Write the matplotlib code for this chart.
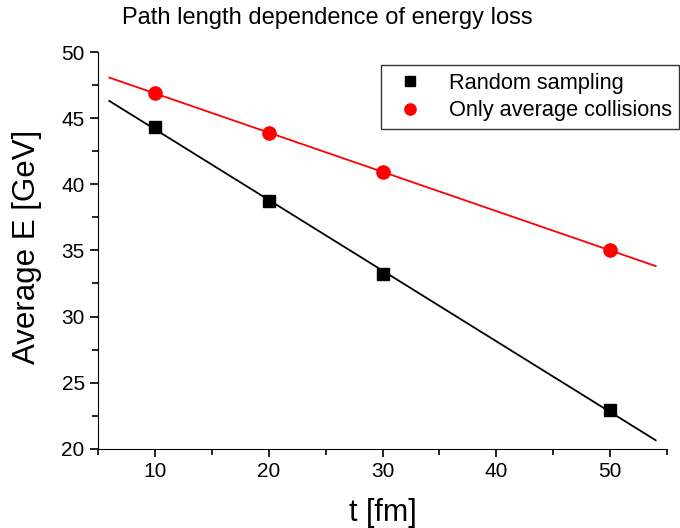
import numpy as np
import matplotlib.pyplot as plt
from matplotlib.ticker import MultipleLocator

plt.rcParams['font.family'] = ['Liberation Sans', 'DejaVu Sans']

t = [10, 20, 30, 50]
e_random = [44.35, 38.72, 33.25, 22.92]
e_average = [46.92, 43.88, 40.90, 35.03]
fit_range = [6, 54]

fig = plt.figure(figsize=(6.8, 5.28), dpi=100)
ax = fig.add_axes([0.144, 0.150, 0.837, 0.7515])

# linear fits through each series
xf = np.array(fit_range)
for ys, col in [(e_random, 'black'), (e_average, 'red')]:
    k, b = np.polyfit(t, ys, 1)
    ax.plot(xf, k * xf + b, color=col, lw=1.3, zorder=2)

ax.plot(t, e_random, 's', color='black', ms=8.5, label='Random sampling', zorder=3)
ax.plot(t, e_average, 'o', color='red', ms=9.5, label='Only average collisions', zorder=3)

ax.set_xlim(5, 55)
ax.set_ylim(20, 50)
ax.xaxis.set_major_locator(MultipleLocator(10))
ax.xaxis.set_minor_locator(MultipleLocator(5))
ax.yaxis.set_major_locator(MultipleLocator(5))
ax.yaxis.set_minor_locator(MultipleLocator(2.5))
ax.set_xticks([10, 20, 30, 40, 50])
ax.spines['top'].set_visible(False)
ax.spines['right'].set_visible(False)
ax.tick_params(which='both', direction='out', width=1.2, labelsize=15)
ax.tick_params(which='major', length=6)
ax.tick_params(which='minor', length=4)
ax.set_xlabel('t [fm]', fontsize=22, labelpad=12)
ax.set_ylabel('Average E [GeV]', fontsize=22.5)
ax.yaxis.set_label_coords(-0.098, 0.51)
fig.text(0.179, 0.966, 'Path length dependence of energy loss', fontsize=17, va='center')

leg = ax.legend(loc='upper left', bbox_to_anchor=(381 / 680, 1 - 65 / 528),
                bbox_transform=fig.transFigure, fontsize=15.7, frameon=True,
                fancybox=False, edgecolor='black', handletextpad=0.75,
                handlelength=2.0, borderpad=0.35, labelspacing=0.3,
                borderaxespad=0, markerscale=0.85)
leg.get_frame().set_linewidth(1.0)

fig.savefig('out.png', dpi=100)
